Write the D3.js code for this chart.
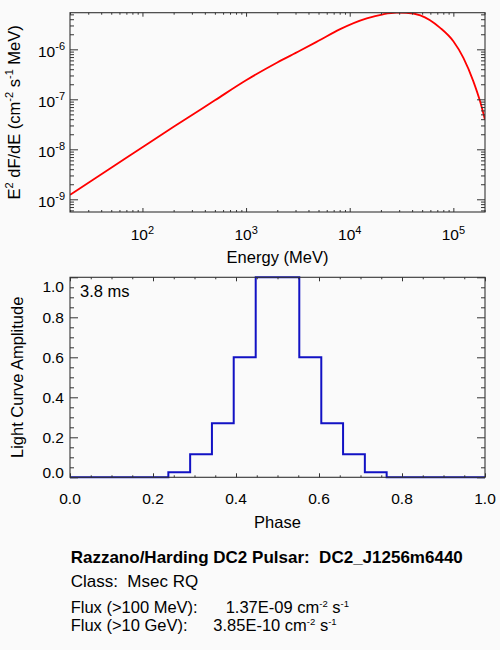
<!DOCTYPE html>
<html lang="en">
  <head>
    <meta charset="UTF-8" />
    <title>DC2 Pulsar spectrum and light curve</title>
    <script src="https://d3js.org/d3.v7.min.js"></script>
    <style>
      html, body { margin: 0; padding: 0; background: #fafafa; }
      svg { display: block; font-family: "Liberation Sans", Arial, Helvetica, sans-serif; }
      text { fill: #000; white-space: pre; }
    </style>
  </head>

  <body>
    <svg width="500" height="650"></svg>

    <script>
      // spectrum: energy (MeV) and E^2 dF/dE (cm^-2 s^-1 MeV)
      const energyMeV = [20, 50, 100, 200, 500, 1000, 2000, 3300, 5000, 8000, 14600,
        21000, 28400, 35000, 48000, 74600, 100000, 125000, 156000, 181000, 202000];
      const sedFlux = [1.23e-9, 4.27e-9, 1.10e-8, 2.82e-8, 9.55e-8, 2.40e-7, 5.45e-7,
        9.33e-7, 1.48e-6, 2.51e-6, 4.17e-6, 5.01e-6, 5.40e-6, 5.37e-6, 4.79e-6,
        2.69e-6, 1.45e-6, 6.76e-7, 2.29e-7, 9.12e-8, 3.89e-8];

      // light curve (histogram style, steps at bin midpoints)
      const phase = [0.000, 0.053, 0.105, 0.158, 0.211, 0.263, 0.316, 0.368, 0.421, 0.474,
        0.526, 0.579, 0.632, 0.684, 0.737, 0.789, 0.842, 0.895, 0.947, 1.000];
      const amplitude = [0, 0, 0, 0, 0, 0.025, 0.115, 0.27, 0.60, 1.0,
        1.0, 0.60, 0.27, 0.115, 0.025, 0, 0, 0, 0, 0];

      // tick labels
      const energyTicks = [1e2, 1e3, 1e4, 1e5];
      const energyExp = ["2", "3", "4", "5"];
      const sedTicks = [1e-9, 1e-8, 1e-7, 1e-6];
      const sedExp = ["-9", "-8", "-7", "-6"];
      const phaseTicks = [0, 0.2, 0.4, 0.6, 0.8, 1.0];
      const ampTicks = [0, 0.2, 0.4, 0.6, 0.8, 1.0];
      const periodLabel = "3.8 ms";

      const infoTitle = "Razzano/Harding DC2 Pulsar:  DC2_J1256m6440";
      const infoClass = "Class:  Msec RQ";
      const fluxLabels = ["Flux (>100 MeV):", "Flux (>10 GeV):"];
      const fluxValues = ["1.37E-09", "3.85E-10"];

      const svg = d3.select("svg");
      const axisColor = "#333";

      const L = 70, R = 485;
      const top1 = 12.7, bot1 = 212;
      const top2 = 277.3, bot2 = 477.3;

      const x1 = d3.scaleLog().domain([20, 2.02e5]).range([L, R]);
      const y1 = d3.scaleLog().domain([5.57e-10, 5.4e-6]).range([bot1, top1]);
      const x2 = d3.scaleLinear().domain([0, 1]).range([L, R]);
      const y2 = d3.scaleLinear().domain([0, 1]).range([bot2, top2]);

      // draws inward ticks on all four sides of a box
      function ticks(g, axisFn, scale, values, len, pos) {
        const a = axisFn(scale).tickValues(values).tickSize(-len).tickFormat("");
        const grp = g.append("g").attr("transform", pos).call(a);
        grp.select(".domain").remove();
        grp.selectAll("line").attr("stroke", axisColor);
        return grp;
      }

      function frame(xs, ys, t, b, xMaj, xMin, yMaj, yMin) {
        const g = svg.append("g");
        ticks(g, d3.axisBottom, xs, xMaj, 4, `translate(0,${b})`);
        ticks(g, d3.axisBottom, xs, xMin, 2, `translate(0,${b})`);
        ticks(g, d3.axisTop, xs, xMaj, 4, `translate(0,${t})`);
        ticks(g, d3.axisTop, xs, xMin, 2, `translate(0,${t})`);
        ticks(g, d3.axisLeft, ys, yMaj, 8, `translate(${L},0)`);
        ticks(g, d3.axisLeft, ys, yMin, 4, `translate(${L},0)`);
        ticks(g, d3.axisRight, ys, yMaj, 8, `translate(${R},0)`);
        ticks(g, d3.axisRight, ys, yMin, 4, `translate(${R},0)`);
        g.append("rect")
          .attr("x", L).attr("y", t)
          .attr("width", R - L).attr("height", b - t)
          .attr("fill", "none").attr("stroke", axisColor).attr("stroke-width", 1.1);
      }

      // ---------- top panel: spectrum ----------
      const isPow = v => Math.abs(Math.log10(v) - Math.round(Math.log10(v))) < 1e-6;
      const xMinor1 = x1.ticks().filter(v => !isPow(v));
      const yMinor1 = y1.ticks().filter(v => !isPow(v));

      svg.append("clipPath").attr("id", "clip1")
        .append("rect").attr("x", L).attr("y", top1).attr("width", R - L).attr("height", bot1 - top1);

      svg.append("path")
        .datum(energyMeV.map((e, i) => [e, sedFlux[i]]))
        .attr("clip-path", "url(#clip1)")
        .attr("fill", "none")
        .attr("stroke", "#ff0000")
        .attr("stroke-width", 1.8)
        .attr("d", d3.line().x(d => x1(d[0])).y(d => y1(d[1])).curve(d3.curveMonotoneX));

      frame(x1, y1, top1, bot1, energyTicks, xMinor1, sedTicks, yMinor1);

      // x tick labels 10^n
      energyTicks.forEach((v, i) => {
        const t = svg.append("text")
          .attr("x", x1(v)).attr("y", 240)
          .attr("text-anchor", "middle")
          .attr("font-size", 15.5);
        t.append("tspan").text("10");
        t.append("tspan").attr("dy", -6).attr("font-size", 11).text(energyExp[i]);
      });

      // y tick labels 10^n
      sedTicks.forEach((v, i) => {
        const t = svg.append("text")
          .attr("x", 65).attr("y", y1(v) + 7.5)
          .attr("text-anchor", "end")
          .attr("font-size", 15.5);
        t.append("tspan").text("10");
        t.append("tspan").attr("dy", -7).attr("font-size", 11).text(sedExp[i]);
      });

      svg.append("text")
        .attr("x", (L + R) / 2).attr("y", 263)
        .attr("text-anchor", "middle").attr("font-size", 16.5)
        .text("Energy (MeV)");

      const yt = svg.append("text")
        .attr("transform", `translate(20,${(top1 + bot1) / 2}) rotate(-90)`)
        .attr("text-anchor", "middle").attr("font-size", 16.5);
      yt.append("tspan").text("E");
      yt.append("tspan").attr("dy", -7).attr("font-size", 11).text("2");
      yt.append("tspan").attr("dy", 7).text(" dF/dE (cm");
      yt.append("tspan").attr("dy", -7).attr("font-size", 11).text("-2");
      yt.append("tspan").attr("dy", 7).text(" s");
      yt.append("tspan").attr("dy", -7).attr("font-size", 11).text("-1");
      yt.append("tspan").attr("dy", 7).text(" MeV)");

      // ---------- bottom panel: light curve ----------
      const xMinor2 = d3.range(0, 1.0001, 0.05).filter(v => Math.abs(v * 5 - Math.round(v * 5)) > 1e-6);
      const yMinor2 = xMinor2;

      svg.append("path")
        .datum(phase.map((p, i) => [p, amplitude[i]]))
        .attr("fill", "none")
        .attr("stroke", "#1212c4")
        .attr("stroke-width", 2)
        .attr("d", d3.line().x(d => x2(d[0])).y(d => y2(d[1])).curve(d3.curveStep));

      frame(x2, y2, top2, bot2, phaseTicks, xMinor2, ampTicks, yMinor2);

      phaseTicks.forEach(v => {
        svg.append("text")
          .attr("x", x2(v)).attr("y", 504)
          .attr("text-anchor", "middle").attr("font-size", 15.5)
          .text(d3.format(".1f")(v));
      });

      ampTicks.forEach(v => {
        let yy = y2(v) + 6;
        if (v === 1) yy = y2(v) + 14.5;
        if (v === 0) yy = y2(v) + 0.5;
        svg.append("text")
          .attr("x", 64).attr("y", yy)
          .attr("text-anchor", "end").attr("font-size", 15.5)
          .text(d3.format(".1f")(v));
      });

      svg.append("text")
        .attr("x", (L + R) / 2).attr("y", 527.7)
        .attr("text-anchor", "middle").attr("font-size", 16.5)
        .text("Phase");

      svg.append("text")
        .attr("transform", `translate(23.3,${(top2 + bot2) / 2}) rotate(-90)`)
        .attr("text-anchor", "middle").attr("font-size", 16.5)
        .text("Light Curve Amplitude");

      svg.append("text")
        .attr("x", 80).attr("y", 297.3)
        .attr("font-size", 16.5)
        .text(periodLabel);

      // ---------- info block ----------
      svg.append("text")
        .attr("x", 70.7).attr("y", 562.5)
        .attr("font-size", 17).attr("font-weight", "bold")
        .text(infoTitle);

      svg.append("text")
        .attr("x", 70.7).attr("y", 587.3)
        .attr("font-size", 17)
        .text(infoClass);

      const fluxY = [612.7, 630.7];
      const fluxX = [225.7, 213.3];
      fluxLabels.forEach((lab, i) => {
        svg.append("text")
          .attr("x", 70.7).attr("y", fluxY[i])
          .attr("font-size", 16.5)
          .text(lab);
        const t = svg.append("text")
          .attr("x", fluxX[i]).attr("y", fluxY[i])
          .attr("font-size", 16.5);
        t.append("tspan").text(fluxValues[i] + " cm");
        t.append("tspan").attr("dy", -6).attr("font-size", 9.5).text("-2");
        t.append("tspan").attr("dy", 6).text(" s");
        t.append("tspan").attr("dy", -6).attr("font-size", 9.5).text("-1");
      });
    </script>
  </body>
</html>
